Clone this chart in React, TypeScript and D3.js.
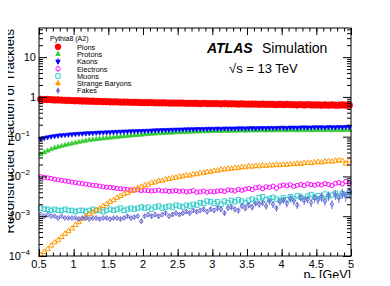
import React, { useEffect, useRef } from "react";
import * as d3 from "d3";

// pT bins: 0.5 - 5 GeV, 0.05 GeV wide
const ptMin = 0.5;
const ptMax = 5;
const binWidth = 0.05;

const pions = [
  0.87, 0.86, 0.86, 0.85, 0.84, 0.84, 0.83, 0.82, 0.82, 0.81,
  0.80, 0.80, 0.79, 0.79, 0.78, 0.78, 0.77, 0.77, 0.76, 0.76,
  0.75, 0.75, 0.75, 0.74, 0.74, 0.74, 0.73, 0.73, 0.73, 0.72,
  0.72, 0.72, 0.72, 0.71, 0.71, 0.71, 0.71, 0.70, 0.70, 0.70,
  0.70, 0.70, 0.69, 0.69, 0.69, 0.69, 0.68, 0.69, 0.68, 0.68,
  0.68, 0.68, 0.67, 0.68, 0.67, 0.67, 0.67, 0.66, 0.67, 0.66,
  0.66, 0.66, 0.66, 0.65, 0.66, 0.65, 0.65, 0.65, 0.64, 0.65,
  0.64, 0.65, 0.64, 0.64, 0.63, 0.64, 0.63, 0.64, 0.63, 0.63,
  0.63, 0.62, 0.63, 0.62, 0.63, 0.62, 0.62, 0.63, 0.62, 0.62,
];
const protons = [
  0.036, 0.040, 0.044, 0.048, 0.052, 0.055, 0.058, 0.061, 0.064, 0.067,
  0.070, 0.073, 0.076, 0.079, 0.082, 0.084, 0.086, 0.088, 0.090, 0.092,
  0.094, 0.096, 0.098, 0.100, 0.102, 0.104, 0.106, 0.108, 0.110, 0.112,
  0.114, 0.116, 0.118, 0.119, 0.121, 0.122, 0.124, 0.125, 0.126, 0.128,
  0.129, 0.130, 0.131, 0.132, 0.133, 0.134, 0.135, 0.136, 0.136, 0.137,
  0.138, 0.138, 0.139, 0.140, 0.139, 0.141, 0.140, 0.141, 0.142, 0.141,
  0.142, 0.143, 0.142, 0.143, 0.144, 0.142, 0.144, 0.143, 0.145, 0.144,
  0.145, 0.144, 0.146, 0.145, 0.143, 0.146, 0.145, 0.147, 0.144, 0.146,
  0.146, 0.145, 0.147, 0.146, 0.144, 0.147, 0.146, 0.145, 0.147, 0.146,
];
const kaons = [
  0.088, 0.093, 0.097, 0.101, 0.104, 0.107, 0.109, 0.111, 0.113, 0.115,
  0.117, 0.119, 0.120, 0.122, 0.123, 0.124, 0.126, 0.127, 0.128, 0.129,
  0.130, 0.131, 0.133, 0.134, 0.135, 0.136, 0.137, 0.138, 0.139, 0.140,
  0.141, 0.142, 0.143, 0.145, 0.146, 0.147, 0.148, 0.149, 0.150, 0.151,
  0.152, 0.153, 0.154, 0.154, 0.155, 0.156, 0.157, 0.157, 0.158, 0.158,
  0.159, 0.160, 0.159, 0.161, 0.161, 0.162, 0.161, 0.163, 0.163, 0.162,
  0.164, 0.165, 0.163, 0.165, 0.166, 0.165, 0.167, 0.167, 0.166, 0.168,
  0.169, 0.167, 0.170, 0.170, 0.168, 0.171, 0.172, 0.170, 0.171, 0.173,
  0.172, 0.174, 0.171, 0.175, 0.174, 0.172, 0.176, 0.173, 0.177, 0.175,
];
const electrons = [
  0.0098, 0.0095, 0.0092, 0.0089, 0.0085, 0.0082, 0.0080, 0.0077, 0.0075, 0.0072,
  0.0070, 0.0068, 0.0066, 0.0064, 0.0062, 0.0060, 0.0059, 0.0057, 0.0055, 0.0054,
  0.0053, 0.0052, 0.0050, 0.0049, 0.0048, 0.0047, 0.0046, 0.0045, 0.0046, 0.0044,
  0.0045, 0.0044, 0.0043, 0.0044, 0.0045, 0.0043, 0.0044, 0.0042, 0.0043, 0.0044,
  0.0042, 0.0043, 0.0041, 0.0042, 0.0044, 0.0040, 0.0041, 0.0043, 0.0040, 0.0042,
  0.0041, 0.0043, 0.0044, 0.0042, 0.0046, 0.0045, 0.0043, 0.0047, 0.0045, 0.0048,
  0.0050, 0.0047, 0.0052, 0.0054, 0.0049, 0.0055, 0.0053, 0.0057, 0.0051, 0.0058,
  0.0061, 0.0058, 0.0062, 0.0056, 0.0060, 0.0063, 0.0059, 0.0065, 0.0062, 0.0060,
  0.0064, 0.0061, 0.0066, 0.0063, 0.0059, 0.0067, 0.0070, 0.0065, 0.0075, 0.0068,
];
const muons = [
  0.0016, 0.0015, 0.0015, 0.0014, 0.0015, 0.0014, 0.0014, 0.0015, 0.0014, 0.0014,
  0.0013, 0.0014, 0.0014, 0.0013, 0.0014, 0.0015, 0.0014, 0.0014, 0.0013, 0.0014,
  0.0015, 0.0014, 0.0015, 0.0016, 0.0014, 0.0015, 0.0016, 0.0015, 0.0016, 0.0017,
  0.0016, 0.0017, 0.0015, 0.0017, 0.0018, 0.0016, 0.0017, 0.0018, 0.0017, 0.0019,
  0.0018, 0.0017, 0.0019, 0.0018, 0.0020, 0.0019, 0.0022, 0.0021, 0.0024, 0.0023,
  0.0021, 0.0023, 0.0020, 0.0024, 0.0022, 0.0025, 0.0023, 0.0026, 0.0024, 0.0022,
  0.0025, 0.0027, 0.0024, 0.0029, 0.0031, 0.0026, 0.0028, 0.0030, 0.0027, 0.0025,
  0.0029, 0.0026, 0.0031, 0.0028, 0.0033, 0.0030, 0.0027, 0.0032, 0.0035, 0.0030,
  0.0033, 0.0029, 0.0036, 0.0031, 0.0034, 0.0038, 0.0032, 0.0037, 0.0035, 0.0040,
];
const strangeBaryons = [
  0.000105, 0.000126, 0.000148, 0.000182, 0.00022, 0.00025, 0.00030, 0.00036, 0.00042, 0.00049,
  0.00060, 0.00071, 0.00086, 0.00099, 0.00113, 0.00125, 0.00142, 0.00156, 0.00180, 0.00203,
  0.00230, 0.00255, 0.00290, 0.00322, 0.00358, 0.00385, 0.00430, 0.00465, 0.00515, 0.00545,
  0.0060, 0.0062, 0.0069, 0.0071, 0.0077, 0.0078, 0.0084, 0.0086, 0.0092, 0.0093,
  0.0099, 0.0100, 0.0106, 0.0105, 0.0113, 0.0114, 0.0121, 0.0122, 0.0130, 0.0131,
  0.0139, 0.0140, 0.0149, 0.0150, 0.0156, 0.0156, 0.0164, 0.0163, 0.0172, 0.0170,
  0.0180, 0.0176, 0.0184, 0.0180, 0.0188, 0.0184, 0.0192, 0.0189, 0.0197, 0.0192,
  0.0199, 0.0196, 0.0203, 0.0205, 0.0211, 0.0207, 0.0216, 0.0221, 0.0215, 0.0226,
  0.0231, 0.0225, 0.0236, 0.0242, 0.0236, 0.0248, 0.0253, 0.0249, 0.0210, 0.0250,
];
const fakes = [
  0.0011, 0.0010, 0.0011, 0.0010, 0.0010, 0.0009, 0.0010, 0.0009, 0.0009, 0.0009,
  0.0009, 0.00085, 0.0009, 0.0009, 0.00085, 0.0009, 0.0009, 0.00085, 0.0009, 0.0009,
  0.00085, 0.0009, 0.0009, 0.00085, 0.0009, 0.0010, 0.0009, 0.00095, 0.0010, 0.00075,
  0.0010, 0.0011, 0.0010, 0.0011, 0.0010, 0.0011, 0.0012, 0.0010, 0.0011, 0.0012,
  0.0011, 0.0012, 0.0013, 0.0012, 0.0014, 0.0013, 0.0014, 0.0015, 0.0013, 0.0015,
  0.0014, 0.0016, 0.0015, 0.0012, 0.0016, 0.0017, 0.0015, 0.0014, 0.0018, 0.0016,
  0.0019, 0.0017, 0.0021, 0.0020, 0.0022, 0.0018, 0.0024, 0.0020, 0.0016, 0.0023,
  0.0026, 0.0021, 0.0028, 0.0024, 0.0019, 0.0030, 0.0025, 0.0027, 0.0022, 0.0029,
  0.0026, 0.0031, 0.0024, 0.0033, 0.0020, 0.0035, 0.0029, 0.0038, 0.0032, 0.0041,
];
// relative statistical uncertainty of the fakes
const fakesRelErr = [
  0.05, 0.05, 0.05, 0.05, 0.05, 0.06, 0.05, 0.06, 0.06, 0.06,
  0.06, 0.07, 0.06, 0.07, 0.07, 0.07, 0.07, 0.08, 0.07, 0.08,
  0.08, 0.08, 0.08, 0.09, 0.08, 0.09, 0.09, 0.09, 0.09, 0.10,
  0.09, 0.10, 0.10, 0.10, 0.11, 0.10, 0.11, 0.11, 0.12, 0.11,
  0.12, 0.12, 0.12, 0.13, 0.12, 0.13, 0.13, 0.14, 0.13, 0.14,
  0.14, 0.15, 0.14, 0.16, 0.15, 0.16, 0.16, 0.17, 0.16, 0.17,
  0.17, 0.18, 0.17, 0.19, 0.18, 0.19, 0.19, 0.20, 0.19, 0.20,
  0.20, 0.21, 0.21, 0.22, 0.21, 0.22, 0.23, 0.22, 0.23, 0.24,
  0.24, 0.25, 0.24, 0.26, 0.25, 0.27, 0.26, 0.28, 0.27, 0.28,
];

const xTicks = [0.5, 1, 1.5, 2, 2.5, 3, 3.5, 4, 4.5, 5];
const xTickLabels = ["0.5", "1", "1.5", "2", "2.5", "3", "3.5", "4", "4.5", "5"];
const yDecades = [-4, -3, -2, -1, 0, 1];

const series = [
  { name: "Pions", values: pions, color: "#ff0000", marker: "circle", fill: true, size: 3.4 },
  { name: "Protons", values: protons, color: "#33cc33", marker: "triUp", fill: true, size: 5 },
  { name: "Kaons", values: kaons, color: "#0000ff", marker: "triDown", fill: true, size: 5 },
  { name: "Electrons", values: electrons, color: "#ff00ff", marker: "circle", fill: false, size: 2.1 },
  { name: "Muons", values: muons, color: "#33cccc", marker: "square", fill: false, size: 4.4 },
  { name: "Strange Baryons", values: strangeBaryons, color: "#ff9900", marker: "triUp", fill: false, size: 5.2 },
  { name: "Fakes", values: fakes, color: "#6b6bd6", marker: "diamond", fill: false, size: 5 },
];

const font = "'Liberation Sans', Arial, Helvetica, sans-serif";

function markerPath(kind: string, s: number) {
  if (kind === "circle") {
    return d3.symbol().type(d3.symbolCircle).size(Math.PI * s * s)()!;
  }
  if (kind === "square") {
    const h = s / 2;
    return `M${-h},${-h}H${h}V${h}H${-h}Z`;
  }
  if (kind === "triUp" || kind === "triDown") {
    const h = (s * Math.sqrt(3)) / 2;
    const k = kind === "triUp" ? 1 : -1;
    return `M0,${(-k * 2 * h) / 3}L${s / 2},${(k * h) / 3}L${-s / 2},${(k * h) / 3}Z`;
  }
  // thin diamond
  const w = s * 0.36;
  const h = s / 2;
  return `M0,${-h}L${w},0L0,${h}L${-w},0Z`;
}

function Chart() {
  const ref = useRef<SVGSVGElement>(null);
  const width = 390;
  const height = 286;

  useEffect(() => {
    const svg = d3.select(ref.current);
    svg.selectAll("*").remove();

    const left = 39;
    const right = 351;
    const top = 28;
    const bottom = 256;

    const x = d3.scaleLinear().domain([ptMin, ptMax]).range([left, right]);
    const y = d3.scaleLog().domain([1e-4, 54]).range([bottom, top]);

    const plot = svg.append("g");

    // data
    series.forEach((s) => {
      const g = plot.append("g");
      const pts = s.values.map((v, i) => ({ pt: ptMin + binWidth * (i + 0.5), v, i }));
      if (s.name === "Fakes") {
        g.selectAll("line")
          .data(pts)
          .enter()
          .append("line")
          .attr("x1", (d) => x(d.pt))
          .attr("x2", (d) => x(d.pt))
          .attr("y1", (d) => y(d.v * (1 - fakesRelErr[d.i])))
          .attr("y2", (d) => y(d.v * (1 + fakesRelErr[d.i])))
          .attr("stroke", s.color)
          .attr("stroke-width", 1);
      }
      g.selectAll("path")
        .data(pts)
        .enter()
        .append("path")
        .attr("d", markerPath(s.marker, s.size))
        .attr("transform", (d) => `translate(${x(d.pt)},${y(d.v)})`)
        .attr("fill", s.fill ? s.color : "none")
        .attr("stroke", s.color)
        .attr("stroke-width", s.fill ? 0.5 : 1);
    });

    // axes (ticks pointing inward, on all four sides)
    const xMinor = d3.range(5, 51).map((d) => d / 10);
    const yMinor: number[] = [];
    yDecades.forEach((d) => {
      for (let k = 2; k <= 9; k++) {
        const v = k * Math.pow(10, d);
        if (v <= 54) yMinor.push(v);
      }
    });
    const yMajor = yDecades.map((d) => Math.pow(10, d));

    const axes = [
      { axis: d3.axisBottom(x).tickValues(xTicks).tickSize(-7), t: `translate(0,${bottom})` },
      { axis: d3.axisBottom(x).tickValues(xMinor).tickSize(-3.5), t: `translate(0,${bottom})` },
      { axis: d3.axisTop(x).tickValues(xTicks).tickSize(-7), t: `translate(0,${top})` },
      { axis: d3.axisTop(x).tickValues(xMinor).tickSize(-3.5), t: `translate(0,${top})` },
      { axis: d3.axisLeft(y).tickValues(yMajor).tickSize(-8), t: `translate(${left},0)` },
      { axis: d3.axisLeft(y).tickValues(yMinor).tickSize(-4), t: `translate(${left},0)` },
      { axis: d3.axisRight(y).tickValues(yMajor).tickSize(-8), t: `translate(${right},0)` },
      { axis: d3.axisRight(y).tickValues(yMinor).tickSize(-4), t: `translate(${right},0)` },
    ];
    axes.forEach((a) => {
      const g = svg
        .append("g")
        .attr("transform", a.t)
        .call(a.axis.tickFormat(() => "").tickSizeOuter(0) as any);
      g.select(".domain").remove();
      g.selectAll("line").attr("stroke", "#000").attr("stroke-width", 1);
    });

    svg
      .append("rect")
      .attr("x", left)
      .attr("y", top)
      .attr("width", right - left)
      .attr("height", bottom - top)
      .attr("fill", "none")
      .attr("stroke", "#000")
      .attr("stroke-width", 1);

    // x tick labels
    svg
      .append("g")
      .selectAll("text")
      .data(xTicks)
      .enter()
      .append("text")
      .attr("x", (d) => x(d))
      .attr("y", 267.5)
      .attr("text-anchor", "middle")
      .style("font-family", font)
      .style("font-size", "11px")
      .text((d, i) => xTickLabels[i]);

    // y tick labels
    yDecades.forEach((d) => {
      const t = svg
        .append("text")
        .attr("y", y(Math.pow(10, d)) + 4)
        .attr("text-anchor", "end")
        .style("font-family", font)
        .style("font-size", "11px");
      if (d === 0 || d === 1) {
        t.attr("x", 36).text(d === 0 ? "1" : "10");
      } else {
        t.attr("x", 30);
        t.append("tspan").text("10");
        t.append("tspan")
          .attr("dy", -5)
          .style("font-size", "8px")
          .text("\u2212" + -d);
      }
    });

    // axis titles
    svg
      .append("text")
      .attr("transform", "rotate(-90)")
      .attr("x", -29)
      .attr("y", 13.5)
      .attr("text-anchor", "end")
      .style("font-family", font)
      .style("font-size", "13px")
      .text("Reconstructed Fraction of Tracklets");

    const xt = svg
      .append("text")
      .attr("x", 351)
      .attr("y", 279)
      .attr("text-anchor", "end")
      .style("font-family", font)
      .style("font-size", "12.5px");
    xt.append("tspan").text("p");
    xt.append("tspan").attr("dy", 3.5).style("font-size", "8.5px").text("T");
    xt.append("tspan").attr("dy", -3.5).text(" [GeV]");

    // ATLAS label
    svg
      .append("text")
      .attr("x", 207)
      .attr("y", 53)
      .style("font-family", font)
      .style("font-size", "14px")
      .style("font-weight", "bold")
      .style("font-style", "italic")
      .text("ATLAS");
    svg
      .append("text")
      .attr("x", 262)
      .attr("y", 53)
      .style("font-family", font)
      .style("font-size", "14px")
      .text("Simulation");
    svg
      .append("text")
      .attr("x", 229)
      .attr("y", 73)
      .style("font-family", font)
      .style("font-size", "13px")
      .text("\u221As = 13 TeV");

    // legend
    svg
      .append("text")
      .attr("x", 50)
      .attr("y", 41)
      .style("font-family", font)
      .style("font-size", "7px")
      .text("Pythia8 (A2)");

    const legend = svg
      .append("g")
      .selectAll("g")
      .data(series)
      .enter()
      .append("g")
      .attr("transform", (d, i) => `translate(58,${46.8 + i * 7.3})`);
    legend
      .filter((d) => d.name !== "Pions" && d.name !== "Protons")
      .append("line")
      .attr("y1", -3)
      .attr("y2", 3)
      .attr("stroke", (d) => d.color)
      .attr("stroke-width", 1);
    legend
      .append("path")
      .attr("d", (d) =>
        markerPath(d.marker, d.marker === "circle" ? (d.fill ? 2.8 : 2.1) : d.name === "Fakes" ? 4.5 : 4.4)
      )
      .attr("fill", (d) => (d.fill || d.name === "Strange Baryons" || d.name === "Fakes" ? d.color : "#fff"))
      .attr("stroke", (d) => d.color)
      .attr("stroke-width", 1);
    legend
      .append("text")
      .attr("x", 19)
      .attr("y", 2.8)
      .style("font-family", font)
      .style("font-size", "7.3px")
      .text((d) => d.name);
  }, []);

  return <svg ref={ref} width={width} height={height} style={{ display: "block" }} />;
}

export default function App() {
  return (
    <div style={{ margin: -8, width: 390, height: 286, background: "#fff" }}>
      <Chart />
    </div>
  );
}
